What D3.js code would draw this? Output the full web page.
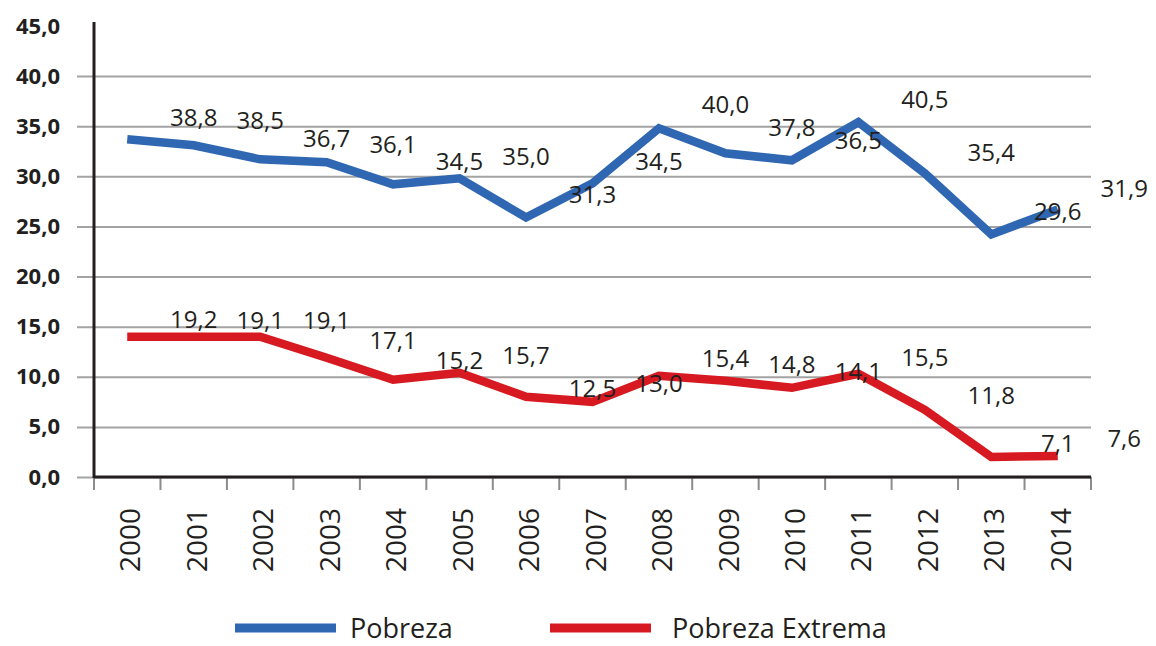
<!DOCTYPE html>
<html>
<head>
<meta charset="utf-8">
<script src="https://cdn.jsdelivr.net/npm/d3@7"></script>
<style>
  body { margin: 0; background: #fff; }
  text { font-family: "Open Sans", sans-serif; fill: #231f20; }
</style>
</head>
<body>
<svg class="line-chart"></svg>
<script>
// data
var years = ['2000', '2001', '2002', '2003', '2004', '2005', '2006', '2007',
    '2008', '2009', '2010', '2011', '2012', '2013', '2014'];
var pobreza = [33.7, 33.1, 31.7, 31.4, 29.2, 29.8, 25.9, 29.3, 34.8, 32.3, 31.6, 35.4, 30.3, 24.2, 26.7];
var extrema = [14.0, 14.0, 14.0, 11.9, 9.7, 10.4, 8.0, 7.5, 10.1, 9.6, 8.9, 10.3, 6.7, 2.0, 2.1];
// value labels as printed on the chart
var pobrezaLabels = [38.8, 38.5, 36.7, 36.1, 34.5, 35.0, 31.3, 34.5, 40.0, 37.8, 36.5, 40.5, 35.4, 29.6, 31.9];
var extremaLabels = [19.2, 19.1, 19.1, 17.1, 15.2, 15.7, 12.5, 13.0, 15.4, 14.8, 14.1, 15.5, 11.8, 7.1, 7.6];
var yTicks = [0, 5, 10, 15, 20, 25, 30, 35, 40, 45];
var seriesNames = ['Pobreza', 'Pobreza Extrema'];

var svgWidth = 1156,
    svgHeight = 646;
var margin = { top: 26, right: 65, bottom: 169, left: 94 };
var width = svgWidth - margin.left - margin.right;
var height = svgHeight - margin.top - margin.bottom;

var colors = ['#2f67b2', '#d71a21'];
var fmt = function (d) { return d.toFixed(1).replace('.', ','); };

var svg = d3.select('.line-chart')
    .attr('width', svgWidth)
    .attr('height', svgHeight);

var g = svg.append('g')
    .attr('transform', 'translate(' + margin.left + ',' + margin.top + ')');

var x = d3.scaleBand().domain(years).range([0, width]);
var y = d3.scaleLinear().domain([0, 45]).range([height, 0]);
// labels sit on their own, slightly stretched vertical scale
var yLabel = d3.scaleLinear().domain([0, 45]).range([height + 40, 27]);

var cx = function (i) { return x(years[i]) + x.bandwidth() / 2; };

// gridlines (stick out left of the axis)
g.append('g')
    .attr('transform', 'translate(-17,0)')
    .call(d3.axisLeft(y).tickValues(yTicks.slice(0, -1)).tickSize(-(width + 17)).tickFormat(''))
    .call(function (s) { s.select('.domain').remove(); })
    .selectAll('line')
    .attr('stroke', '#a3a3a3')
    .attr('stroke-width', 2);

// y labels
g.append('g')
    .call(d3.axisLeft(y).tickValues(yTicks).tickSize(0).tickPadding(34).tickFormat(fmt))
    .call(function (s) { s.select('.domain').remove(); })
    .selectAll('text')
    .attr('font-size', 22)
    .attr('font-weight', 'bold')
    .attr('fill', '#231f20');

// x ticks at band edges
var edges = years.map(function (d) { return x(d); }).concat([width]);
g.append('g').selectAll('line')
    .data(edges)
    .enter()
    .append('line')
    .attr('x1', function (d) { return d; })
    .attr('x2', function (d) { return d; })
    .attr('y1', height)
    .attr('y2', height + 13)
    .attr('stroke', '#8c8c8c')
    .attr('stroke-width', 2);

// axis lines
g.append('line')
    .attr('x1', 0).attr('x2', width)
    .attr('y1', height).attr('y2', height)
    .attr('stroke', '#231f20')
    .attr('stroke-width', 3);
g.append('line')
    .attr('x1', 0).attr('x2', 0)
    .attr('y1', y(45) - 4).attr('y2', height + 1)
    .attr('stroke', '#231f20')
    .attr('stroke-width', 3);

// year labels
g.append('g').selectAll('text')
    .data(years)
    .enter()
    .append('text')
    .attr('transform', function (d, i) {
        return 'translate(' + (cx(i) + 3) + ',' + (height + 31) + ') rotate(-90)';
    })
    .attr('text-anchor', 'end')
    .attr('dy', '0.36em')
    .attr('font-size', 28)
    .text(function (d) { return d; });

// lines
var line = d3.line()
    .x(function (d, i) { return cx(i); })
    .y(function (d) { return y(d); });

[pobreza, extrema].forEach(function (series, k) {
    g.append('path')
        .datum(series)
        .attr('fill', 'none')
        .attr('stroke', colors[k])
        .attr('stroke-width', 8.5)
        .attr('stroke-linejoin', 'miter')
        .attr('d', line);
});

// value labels (shifted one category right, as in the original)
[pobrezaLabels, extremaLabels].forEach(function (labels) {
    g.append('g').selectAll('text')
        .data(labels)
        .enter()
        .append('text')
        .attr('x', function (d, i) { return cx(i) + x.bandwidth(); })
        .attr('y', function (d) { return yLabel(d); })
        .attr('dy', '0.36em')
        .attr('text-anchor', 'middle')
        .attr('font-size', 24)
        .text(fmt);
});

// legend
var legend = svg.append('g')
    .attr('transform', 'translate(235,628)');
var item = legend.selectAll('g')
    .data(seriesNames)
    .enter()
    .append('g')
    .attr('transform', function (d, i) { return 'translate(' + (i * 315) + ',0)'; });
item.append('line')
    .attr('x1', 0).attr('x2', 101)
    .attr('stroke', function (d, i) { return colors[i]; })
    .attr('stroke-width', 9);
item.append('text')
    .attr('x', function (d, i) { return i ? 122 : 115; })
    .attr('dy', '0.36em')
    .attr('font-size', 27)
    .text(function (d) { return d; });
</script>
</body>
</html>
